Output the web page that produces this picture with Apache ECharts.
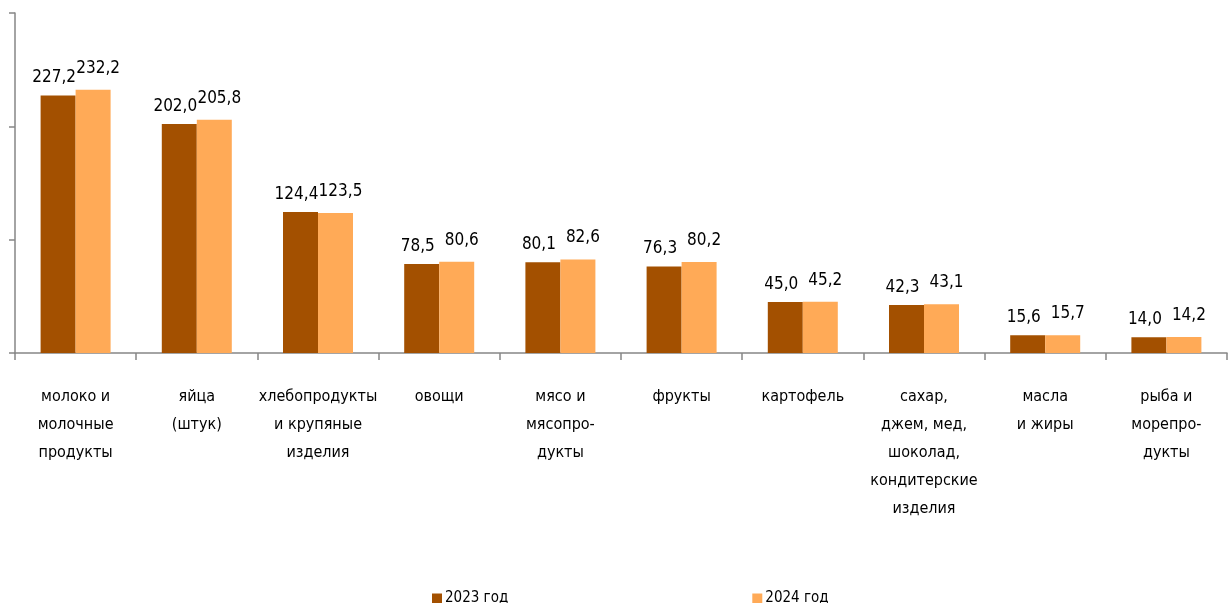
<!DOCTYPE html>
<html>
<head>
<meta charset="utf-8">
<script src="https://cdn.jsdelivr.net/npm/echarts@6/dist/echarts.min.js"></script>
<style>
  html, body { margin: 0; padding: 0; background: #fff; }
  #chart { width: 1228px; height: 603px; }
</style>
</head>
<body>
<div id="chart"></div>
<script>
const categories = [
  "молоко и\nмолочные\nпродукты",
  "яйца\n(штук)",
  "хлебопродукты\nи крупяные\nизделия",
  "овощи",
  "мясо и\nмясопро-\nдукты",
  "фрукты",
  "картофель",
  "сахар,\nджем, мед,\nшоколад,\nкондитерские\nизделия",
  "масла\nи жиры",
  "рыба и\nморепро-\nдукты"
];
const values2023 = [227.2, 202.0, 124.4, 78.5, 80.1, 76.3, 45.0, 42.3, 15.6, 14.0];
const values2024 = [232.2, 205.8, 123.5, 80.6, 82.6, 80.2, 45.2, 43.1, 15.7, 14.2];
const seriesNames = ["2023 год", "2024 год"];

const FONT = '"Liberation Sans Narrow", "DejaVu Sans Condensed", sans-serif';
const axisColor = "#868686";

const chart = echarts.init(document.getElementById("chart"));

const fmt = (p) => p.value.toFixed(1).replace(".", ",");

const option = {
  animation: false,
  textStyle: { fontFamily: FONT },
  grid: { left: 15, right: 1, top: 13, bottom: 250, containLabel: false },
  legend: {
    left: 427,
    top: 586,
    itemWidth: 10,
    itemHeight: 10,
    itemGap: 244,
    icon: "rect",
    textStyle: { fontFamily: FONT, fontSize: 15, color: "#000", padding: [3, 0, 0, -2] },
    data: seriesNames
  },
  xAxis: {
    type: "category",
    data: categories,
    axisLine: { lineStyle: { color: axisColor, width: 1.5 } },
    axisTick: { show: true, length: 7, lineStyle: { color: axisColor, width: 1.5 } },
    axisLabel: {
      interval: 0,
      margin: 30,
      fontFamily: FONT,
      fontSize: 16,
      lineHeight: 28,
      color: "#000"
    }
  },
  yAxis: {
    type: "value",
    min: 0,
    max: 300,
    interval: 100,
    axisLine: { show: true, lineStyle: { color: axisColor, width: 1.5 } },
    axisTick: { show: true, inside: false, length: 6, lineStyle: { color: axisColor, width: 1.5 } },
    axisLabel: { show: false },
    splitLine: { show: false }
  },
  series: [
    {
      name: seriesNames[0],
      type: "bar",
      data: values2023,
      barWidth: 35,
      barGap: "0%",
      itemStyle: { color: "#A35000" },
      label: {
        show: true,
        position: "top",
        distance: 9,
        offset: [-4, 0],
        formatter: fmt,
        fontFamily: FONT,
        fontSize: 17,
        color: "#000"
      }
    },
    {
      name: seriesNames[1],
      type: "bar",
      data: values2024,
      barWidth: 35,
      barGap: "0%",
      itemStyle: { color: "#FFAA57" },
      label: {
        show: true,
        position: "top",
        distance: 13,
        offset: [5, 0],
        formatter: fmt,
        fontFamily: FONT,
        fontSize: 17,
        color: "#000"
      }
    }
  ]
};

chart.setOption(option);
window.addEventListener("resize", () => chart.resize());
</script>
</body>
</html>
